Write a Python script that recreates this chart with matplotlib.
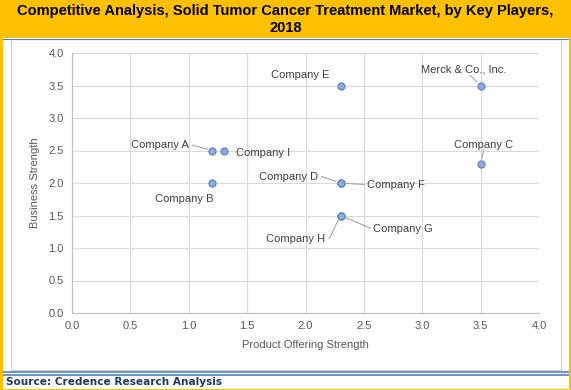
import matplotlib
matplotlib.use("Agg")
import matplotlib.pyplot as plt
from matplotlib.patches import Rectangle
from matplotlib.lines import Line2D

companies = ["Company A", "Company I", "Company B", "Company E", "Merck & Co., Inc.",
             "Company C", "Company D", "Company F", "Company G", "Company H"]
product_strength = [1.2, 1.3, 1.2, 2.3, 3.5, 3.5, 2.3, 2.3, 2.3, 2.3]
business_strength = [2.5, 2.5, 2.0, 3.5, 3.5, 2.3, 2.0, 2.0, 1.5, 1.5]
ticks = [0.0, 0.5, 1.0, 1.5, 2.0, 2.5, 3.0, 3.5, 4.0]

# label offsets (pixels), alignment, and leader-line anchor on the text (None = no leader)
label_style = {
    "Company A": ((-23, 5), "right", (1.05, 0.55)),
    "Company I": ((12, -2), "left", None),
    "Company B": ((-28, -16), "center", None),
    "Company E": ((-40, 10), "center", None),
    "Merck & Co., Inc.": ((-17, 16), "center", (0.57, -0.05)),
    "Company C": ((3, 19), "center", (0.5, -0.05)),
    "Company D": ((-22, 6), "right", (1.05, 0.55)),
    "Company F": ((26, -2), "left", (-0.04, 0.55)),
    "Company G": ((32, -13), "left", (-0.04, 0.55)),
    "Company H": ((-15, -24), "right", (1.06, 0.55)),
}

W, H = 571, 390
fig = plt.figure(figsize=(W / 100, H / 100), dpi=100)
fig.patch.set_facecolor("white")

# Title band
fig.add_artist(Rectangle((0, 1 - 38 / H), 1, 38 / H, transform=fig.transFigure,
                         facecolor="#FFC000", edgecolor="none", zorder=0))
fig.add_artist(Line2D([0, 1], [1 - 38.5 / H] * 2, transform=fig.transFigure,
                      color="#4F81BD", lw=0.8))
# inner gray chart frame
fig.add_artist(Rectangle((11 / W, 1 - 370 / H), (561 - 11) / W, (370 - 39) / H,
                         transform=fig.transFigure, facecolor="none",
                         edgecolor="#D0D0D0", lw=0.8, zorder=0))
# bottom double blue line
for yy in (372, 375):
    fig.add_artist(Line2D([0, 1], [1 - yy / H] * 2, transform=fig.transFigure,
                          color="#4F81BD", lw=1.2))
# outer orange border
fig.add_artist(Rectangle((0.5 / W, 0.5 / H), 1 - 2 / W, 1 - 1.5 / H,
                         transform=fig.transFigure, facecolor="none",
                         edgecolor="#FFC000", lw=2.2, zorder=5))

fig.text(0.5, 1 - 11 / H, "Competitive Analysis, Solid Tumor Cancer Treatment Market, by Key Players,",
         ha="center", va="center", fontsize=10.5, fontweight="bold",
         family="Liberation Sans", color="black")
fig.text(0.5, 1 - 28 / H, "2018", ha="center", va="center", fontsize=10.5,
         fontweight="bold", family="Liberation Sans", color="black")
fig.text(6 / W, 1 - 382 / H, "Source: Credence Research Analysis", ha="left",
         va="center", fontsize=7.6, fontweight="bold", family="DejaVu Sans",
         color="#1F3864")

ax = fig.add_axes([72 / W, 1 - 313 / H, (539 - 72) / W, (313 - 53) / H])
ax.set_xlim(0, 4)
ax.set_ylim(0, 4)
ax.set_xticks(ticks)
ax.set_yticks(ticks)
ax.set_xticklabels([f"{t:.1f}" for t in ticks])
ax.set_yticklabels([f"{t:.1f}" for t in ticks])
ax.grid(True, color="#D9D9D9", lw=0.8)
ax.set_axisbelow(True)
for s in ("top", "right"):
    ax.spines[s].set_visible(False)
for s in ("left", "bottom"):
    ax.spines[s].set_color("#BFBFBF")
    ax.spines[s].set_linewidth(0.8)
ax.tick_params(length=0, labelsize=8, labelcolor="#595959", pad=6)
for lbl in ax.get_xticklabels() + ax.get_yticklabels():
    lbl.set_family("Liberation Sans")

ax.set_xlabel("Product Offering Strength", fontsize=8, color="#595959",
              family="Liberation Sans", labelpad=6)
ax.set_ylabel("Business Strength", fontsize=8, color="#595959",
              family="Liberation Sans", labelpad=6)

ax.scatter(product_strength, business_strength, s=26, facecolor="#8EA9DB",
           edgecolor="#5B7FBF", linewidths=0.8, zorder=3, clip_on=False)

for name, x, y in zip(companies, product_strength, business_strength):
    (dx, dy), ha, rel = label_style[name]
    arrow = None
    if rel is not None:
        arrow = dict(arrowstyle="-", color="#A6A6A6", lw=0.8, relpos=rel,
                     patchA=None, shrinkA=0, shrinkB=3.5)
    ax.annotate(name, xy=(x, y), xytext=(dx, dy), textcoords="offset pixels",
                ha=ha, va="center", fontsize=8, color="#404040",
                family="Liberation Sans", arrowprops=arrow, zorder=4)

fig.savefig("out.png", dpi=100, facecolor=fig.get_facecolor())
